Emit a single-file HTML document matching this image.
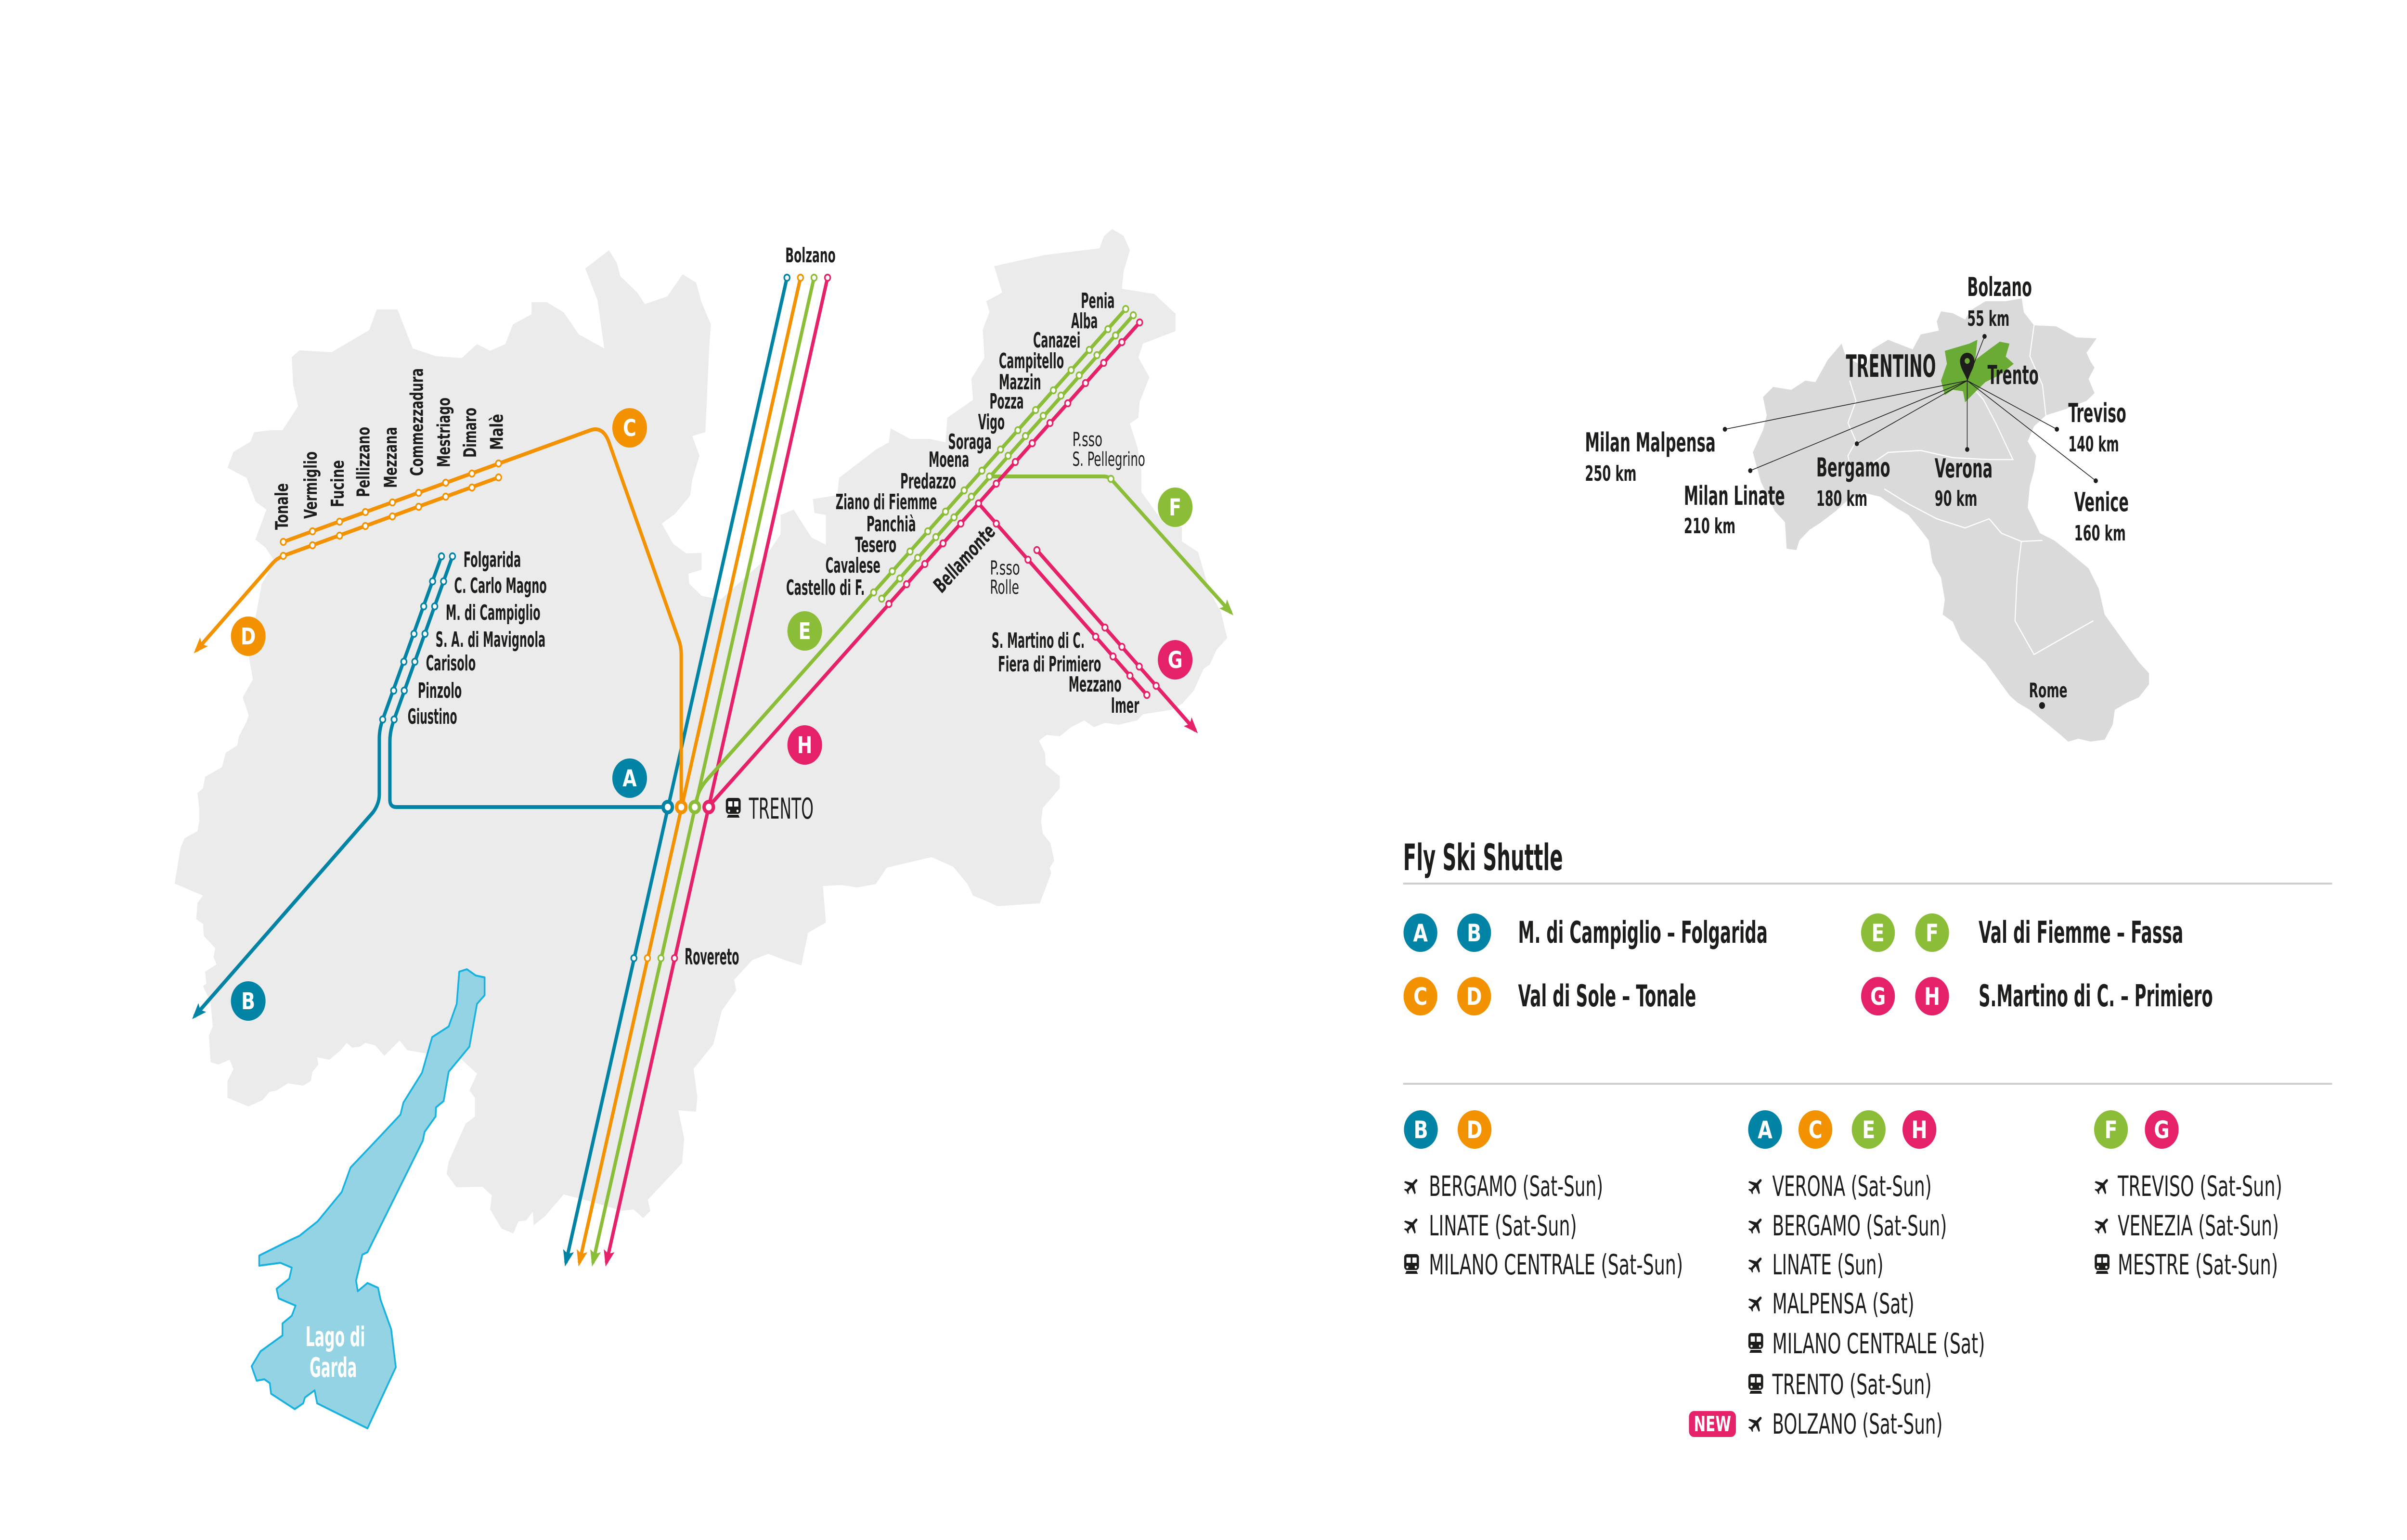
<!DOCTYPE html>
<html>
<head>
<meta charset="utf-8">
<style>
  html,body{margin:0;padding:0;background:#fff;width:100%;height:100%;overflow:hidden;}
  svg{display:block;width:100vw;height:100vh;}
  .b{font-family:"Liberation Sans Narrow","DejaVu Sans Condensed","Liberation Sans",sans-serif;font-weight:700;fill:#1d1d1b;}
  .r{font-family:"Liberation Sans Narrow","DejaVu Sans Condensed","Liberation Sans",sans-serif;font-weight:400;fill:#1d1d1b;}
  .w{fill:#fff;}
</style>
</head>
<body>
<svg viewBox="0 0 5692 3200" preserveAspectRatio="none" xmlns="http://www.w3.org/2000/svg">
<defs>
  <marker id="aB" viewBox="-40 -25 50 50" refX="0" refY="0" markerWidth="50" markerHeight="50" markerUnits="userSpaceOnUse" orient="auto"><path d="M8,0 L-26,-13 L-19,0 L-26,13 Z" fill="#0083a5"/></marker>
  <marker id="aO" viewBox="-40 -25 50 50" refX="0" refY="0" markerWidth="50" markerHeight="50" markerUnits="userSpaceOnUse" orient="auto"><path d="M8,0 L-26,-13 L-19,0 L-26,13 Z" fill="#f39200"/></marker>
  <marker id="aG" viewBox="-40 -25 50 50" refX="0" refY="0" markerWidth="50" markerHeight="50" markerUnits="userSpaceOnUse" orient="auto"><path d="M8,0 L-26,-13 L-19,0 L-26,13 Z" fill="#8bbd38"/></marker>
  <marker id="aM" viewBox="-40 -25 50 50" refX="0" refY="0" markerWidth="50" markerHeight="50" markerUnits="userSpaceOnUse" orient="auto"><path d="M8,0 L-26,-13 L-19,0 L-26,13 Z" fill="#e5216a"/></marker>
  <g id="train">
    <rect x="-17.5" y="-20" width="35" height="33" rx="7" fill="#1d1d1b"/>
    <rect x="-12" y="-13" width="10" height="11" fill="#fff"/>
    <rect x="2" y="-13" width="10" height="11" fill="#fff"/>
    <circle cx="-10" cy="7" r="2.6" fill="#fff"/>
    <circle cx="10" cy="7" r="2.6" fill="#fff"/>
    <path d="M-12,15 L12,15 L15,21 L-15,21 Z" fill="#1d1d1b"/>
  </g>
  <g id="plane">
    <path transform="rotate(45) scale(1.85) translate(-11.5,-12)" d="M21 16v-2l-8-5V3.5c0-.83-.67-1.5-1.5-1.5S10 2.67 10 3.5V9l-8 5v2l8-2.5V19l-2 1.5V22l3.5-1 3.5 1v-1.5L13 19v-5.5l8 2.5z" fill="#1d1d1b"/>
  </g>
</defs>
<rect width="5692" height="3200" fill="#fff"/>

<!-- Trentino map -->
<polygon fill="#ebebeb" points="538,972 552,939 592,918 601,898 641,894 668,894 705,844 693,798 690,742 708,728 784,732 873,686 891,643 940,643 976,724 1030,740 1092,744 1128,715 1159,729 1195,715 1213,674 1257,653 1257,628 1293,628 1333,649 1369,695 1429,724 1413,624 1384,558 1440,520 1458,545 1467,574 1507,608 1525,632 1578,616 1614,570 1646,587 1659,628 1681,674 1677,724 1668,898 1637,906 1654,947 1637,997 1632,1030 1596,1068 1565,1088 1592,1130 1623,1150 1659,1149 1659,1184 1628,1192 1630,1213 1659,1238 1704,1246 1800,1170 1846,1110 1846,1070 1877,1059 1919,1117 1953,1132 1953,1070 1926,1066 1922,1037 1980,1029 1984,993 2072,934 2102,919 2106,890 2152,912 2198,912 2236,919 2240,868 2301,831 2297,787 2328,743 2324,685 2340,648 2332,626 2370,608 2351,553 2470,530 2600,516 2611,490 2630,476 2657,490 2672,520 2657,564 2653,600 2730,611 2780,652 2780,688 2703,714 2692,743 2718,784 2695,835 2692,868 2672,880 2690,930 2699,978 2699,1022 2753,1088 2795,1095 2795,1125 2833,1147 2860,1227 2887,1271 2902,1326 2877,1350 2861,1381 2846,1390 2823,1435 2796,1462 2770,1475 2703,1484 2689,1497 2645,1506 2613,1502 2587,1511 2564,1497 2533,1511 2506,1530 2475,1527 2457,1539 2471,1564 2473,1589 2506,1613 2506,1638 2466,1679 2462,1707 2466,1732 2484,1752 2493,1788 2482,1804 2486,1814 2459,1877 2359,1883 2332,1872 2301,1861 2288,1837 2254,1801 2203,1781 2140,1794 2097,1803 2071,1837 2027,1844 1990,1839 1946,1841 1953,1917 1911,1938 1895,2006 1859,1996 1817,1982 1779,1995 1736,2036 1741,2058 1707,2100 1687,2170 1640,2221 1649,2279 1646,2310 1604,2307 1618,2366 1613,2417 1532,2493 1538,2516 1521,2531 1498,2513 1471,2516 1382,2493 1333,2482 1288,2528 1262,2546 1260,2518 1244,2536 1226,2538 1214,2563 1186,2553 1159,2513 1163,2484 1141,2466 1079,2467 1056,2439 1061,2414 1101,2335 1123,2320 1123,2281 1110,2266 1128,2231 1092,2202 1025,2189 1007,2189 963,2182 945,2162 909,2194 887,2172 864,2167 851,2175 833,2177 820,2167 806,2182 779,2202 750,2197 753,2212 739,2227 735,2246 717,2256 681,2251 654,2266 637,2269 621,2286 587,2299 538,2281 538,2246 552,2222 543,2202 516,2212 498,2207 494,2152 503,2133 498,2083 480,2049 488,2044 485,2019 512,2004 505,1989 509,1970 482,1945 480,1920 464,1910 467,1876 480,1861 413,1836 427,1762 436,1742 467,1727 471,1708 471,1678 467,1648 480,1638 485,1614 525,1594 534,1564 561,1549 565,1530 583,1500 588,1486 574,1449 598,1412 588,1362 605,1279 619,1213 650,1167 628,1138 604,1121 630,1059 605,1043 583,993"/>

<!-- Lake -->
<polygon fill="#94d3e4" stroke="#17b2df" stroke-width="4" stroke-linejoin="round" points="1086,2019 1104,2014 1125,2027 1146,2031 1146,2068 1128,2086 1110,2175 1061,2227 1049,2288 1031,2301 1030,2320 1004,2352 1000,2370 869,2602 857,2607 842,2661 846,2683 869,2666 894,2676 900,2701 925,2762 936,2841 869,2968 750,2916 744,2889 721,2904 717,2916 697,2928 641,2896 638,2874 625,2866 607,2869 595,2839 616,2808 668,2775 668,2750 690,2734 699,2713 659,2698 654,2678 684,2657 690,2634 663,2624 613,2630 613,2609 686,2577 708,2568 751,2538 808,2477 829,2426 897,2363 947,2316 954,2291 998,2229 1022,2155 1061,2133 1080,2086"/>
<text class="b w" x="793" y="2797" font-size="56" text-anchor="middle" textLength="141" lengthAdjust="spacingAndGlyphs">Lago di</text>
<text class="b w" x="788" y="2861" font-size="56" text-anchor="middle" textLength="112" lengthAdjust="spacingAndGlyphs">Garda</text>

<!-- Lines -->
<g fill="none" stroke-width="8" stroke-linejoin="round" stroke-linecap="butt">
  <path d="M1861,577 L1338,2624" stroke="#0083a5" marker-end="url(#aB)"/>
  <path d="M1893,577 L1370,2624" stroke="#f39200" marker-end="url(#aO)"/>
  <path d="M1925,577 L1402,2624" stroke="#8bbd38" marker-end="url(#aG)"/>
  <path d="M1957,577 L1434,2624" stroke="#e5216a" marker-end="url(#aM)"/>
  <path d="M1070,1156 L932,1495 Q922,1519 922,1540 L922,1662 Q922,1677 937,1677 L1579,1677" stroke="#0083a5"/>
  <path d="M1044,1156 L905,1495 Q897,1515 897,1535 L897,1650 Q897,1670 882,1688 L460,2112" stroke="#0083a5" marker-end="url(#aB)"/>
  <path d="M1611,1676 L1611,1360 Q1611,1342 1604,1327 L1442,924 Q1428,884 1396,894 L670,1126" stroke="#f39200"/>
  <path d="M1179,992 L670,1155 Q655,1160 645,1170 L464,1352" stroke="#f39200" marker-end="url(#aO)"/>
  <path d="M1644,1676 C1648,1652 1656,1636 1672,1620 L2662,642" stroke="#8bbd38"/>
  <path d="M2680,655 L2085,1244" stroke="#8bbd38"/>
  <path d="M2340,990 L2610,990 Q2622,990 2630,998 L2911,1273" stroke="#8bbd38" marker-end="url(#aG)"/>
  <path d="M1676,1676 L1692,1660 L2695,670" stroke="#e5216a"/>
  <path d="M2314,1046 L2712,1444" stroke="#e5216a"/>
  <path d="M2452,1143 L2827,1518" stroke="#e5216a" marker-end="url(#aM)"/>
</g>

<!-- Stations -->
<g fill="#fff" stroke-width="3.5">
  <g stroke="#0083a5">
    <circle cx="1861" cy="577" r="6.5"/>
    <circle cx="1499" cy="1991" r="6.5"/>
    <circle cx="932" cy="1495" r="6.5"/><circle cx="956" cy="1435" r="6.5"/><circle cx="981" cy="1375" r="6.5"/><circle cx="1005" cy="1317" r="6.5"/><circle cx="1028" cy="1260" r="6.5"/><circle cx="1049" cy="1208" r="6.5"/><circle cx="1070" cy="1156" r="6.5"/>
    <circle cx="905" cy="1495" r="6.5"/><circle cx="931" cy="1435" r="6.5"/><circle cx="955" cy="1375" r="6.5"/><circle cx="979" cy="1317" r="6.5"/><circle cx="1002" cy="1260" r="6.5"/><circle cx="1023" cy="1208" r="6.5"/><circle cx="1044" cy="1156" r="6.5"/>
  </g>
  <g stroke="#f39200">
    <circle cx="1893" cy="577" r="6.5"/>
    <circle cx="1531" cy="1991" r="6.5"/>
    <circle cx="670" cy="1126" r="6.5"/><circle cx="739" cy="1104" r="6.5"/><circle cx="803" cy="1084" r="6.5"/><circle cx="864" cy="1064" r="6.5"/><circle cx="928" cy="1044" r="6.5"/><circle cx="990" cy="1024" r="6.5"/><circle cx="1054" cy="1003" r="6.5"/><circle cx="1116" cy="984" r="6.5"/><circle cx="1179" cy="963" r="6.5"/>
    <circle cx="670" cy="1155" r="6.5"/><circle cx="739" cy="1133" r="6.5"/><circle cx="803" cy="1113" r="6.5"/><circle cx="864" cy="1093" r="6.5"/><circle cx="928" cy="1073" r="6.5"/><circle cx="990" cy="1053" r="6.5"/><circle cx="1054" cy="1032" r="6.5"/><circle cx="1116" cy="1013" r="6.5"/><circle cx="1179" cy="992" r="6.5"/>
  </g>
  <g stroke="#8bbd38">
    <circle cx="1925" cy="577" r="6.5"/>
    <circle cx="1563" cy="1991" r="6.5"/>
    <circle cx="2662" cy="642" r="6.5"/><circle cx="2620" cy="684" r="6.5"/><circle cx="2576" cy="727" r="6.5"/><circle cx="2533" cy="769" r="6.5"/><circle cx="2491" cy="811" r="6.5"/><circle cx="2449" cy="852" r="6.5"/><circle cx="2407" cy="894" r="6.5"/><circle cx="2366" cy="934" r="6.5"/><circle cx="2322" cy="978" r="6.5"/><circle cx="2280" cy="1019" r="6.5"/><circle cx="2236" cy="1063" r="6.5"/><circle cx="2194" cy="1104" r="6.5"/><circle cx="2152" cy="1146" r="6.5"/><circle cx="2110" cy="1187" r="6.5"/><circle cx="2066" cy="1231" r="6.5"/>
    <circle cx="2680" cy="655" r="6.5"/><circle cx="2638" cy="697" r="6.5"/><circle cx="2594" cy="738" r="6.5"/><circle cx="2552" cy="780" r="6.5"/><circle cx="2509" cy="822" r="6.5"/><circle cx="2467" cy="864" r="6.5"/><circle cx="2425" cy="906" r="6.5"/><circle cx="2384" cy="947" r="6.5"/><circle cx="2340" cy="990" r="6.5"/><circle cx="2297" cy="1032" r="6.5"/><circle cx="2256" cy="1075" r="6.5"/><circle cx="2213" cy="1116" r="6.5"/><circle cx="2170" cy="1159" r="6.5"/><circle cx="2128" cy="1202" r="6.5"/><circle cx="2085" cy="1244" r="6.5"/>
    <circle cx="2627" cy="995" r="6.5"/>
  </g>
  <g stroke="#e5216a">
    <circle cx="1957" cy="577" r="6.5"/>
    <circle cx="1595" cy="1991" r="6.5"/>
    <circle cx="2695" cy="670" r="6.5"/><circle cx="2653" cy="711" r="6.5"/><circle cx="2610" cy="754" r="6.5"/><circle cx="2567" cy="796" r="6.5"/><circle cx="2525" cy="838" r="6.5"/><circle cx="2483" cy="879" r="6.5"/><circle cx="2441" cy="921" r="6.5"/><circle cx="2401" cy="960" r="6.5"/><circle cx="2356" cy="1005" r="6.5"/><circle cx="2314" cy="1046" r="6.5"/><circle cx="2272" cy="1088" r="6.5"/><circle cx="2230" cy="1129" r="6.5"/><circle cx="2187" cy="1172" r="6.5"/><circle cx="2144" cy="1214" r="6.5"/><circle cx="2102" cy="1255" r="6.5"/>
    <circle cx="2356" cy="1088" r="6.5"/><circle cx="2431" cy="1163" r="6.5"/><circle cx="2591" cy="1323" r="6.5"/><circle cx="2632" cy="1364" r="6.5"/><circle cx="2672" cy="1404" r="6.5"/><circle cx="2712" cy="1444" r="6.5"/>
    <circle cx="2452" cy="1143" r="6.5"/><circle cx="2613" cy="1304" r="6.5"/><circle cx="2653" cy="1344" r="6.5"/><circle cx="2694" cy="1385" r="6.5"/><circle cx="2734" cy="1425" r="6.5"/>
  </g>
  <g stroke-width="8">
    <circle cx="1579" cy="1677" r="11" stroke="#0083a5"/>
    <circle cx="1611" cy="1677" r="11" stroke="#f39200"/>
    <circle cx="1643" cy="1677" r="11" stroke="#8bbd38"/>
    <circle cx="1676" cy="1677" r="11" stroke="#e5216a"/>
  </g>
</g>

<!-- Route letter circles on map -->
<g>
  <circle cx="1489" cy="1617" r="41" fill="#0083a5"/><text class="b w" x="1489" y="1634" font-size="48" text-anchor="middle">A</text>
  <circle cx="587" cy="2080" r="41" fill="#0083a5"/><text class="b w" x="587" y="2097" font-size="48" text-anchor="middle">B</text>
  <circle cx="1489" cy="889" r="41" fill="#f39200"/><text class="b w" x="1489" y="906" font-size="48" text-anchor="middle">C</text>
  <circle cx="587" cy="1322" r="41" fill="#f39200"/><text class="b w" x="587" y="1339" font-size="48" text-anchor="middle">D</text>
  <circle cx="1903" cy="1311" r="41" fill="#8bbd38"/><text class="b w" x="1903" y="1328" font-size="48" text-anchor="middle">E</text>
  <circle cx="2779" cy="1054" r="41" fill="#8bbd38"/><text class="b w" x="2779" y="1071" font-size="48" text-anchor="middle">F</text>
  <circle cx="2779" cy="1371" r="41" fill="#e5216a"/><text class="b w" x="2779" y="1388" font-size="48" text-anchor="middle">G</text>
  <circle cx="1903" cy="1548" r="41" fill="#e5216a"/><text class="b w" x="1903" y="1565" font-size="48" text-anchor="middle">H</text>
</g>

<use href="#train" x="1734" y="1678"/>
<text class="r" x="1771" y="1701" font-size="60" textLength="153" lengthAdjust="spacingAndGlyphs">TRENTO</text>
<text class="b" x="1857" y="545" font-size="42" textLength="119" lengthAdjust="spacingAndGlyphs">Bolzano</text>
<text class="b" x="1619" y="2004" font-size="46" textLength="129" lengthAdjust="spacingAndGlyphs">Rovereto</text>

<g font-size="44">
  <text class="b" x="1096" y="1178" textLength="136" lengthAdjust="spacingAndGlyphs">Folgarida</text>
  <text class="b" x="1074" y="1232" textLength="219" lengthAdjust="spacingAndGlyphs">C. Carlo Magno</text>
  <text class="b" x="1054" y="1288" textLength="224" lengthAdjust="spacingAndGlyphs">M. di Campiglio</text>
  <text class="b" x="1030" y="1344" textLength="260" lengthAdjust="spacingAndGlyphs">S. A. di Mavignola</text>
  <text class="b" x="1007" y="1393" textLength="118" lengthAdjust="spacingAndGlyphs">Carisolo</text>
  <text class="b" x="988" y="1450" textLength="104" lengthAdjust="spacingAndGlyphs">Pinzolo</text>
  <text class="b" x="964" y="1504" textLength="117" lengthAdjust="spacingAndGlyphs">Giustino</text>
</g>

<g font-size="42">
  <text class="b" transform="translate(681,1101) rotate(-90)" textLength="97" lengthAdjust="spacingAndGlyphs">Tonale</text>
  <text class="b" transform="translate(749,1078) rotate(-90)" textLength="140" lengthAdjust="spacingAndGlyphs">Vermiglio</text>
  <text class="b" transform="translate(813,1054) rotate(-90)" textLength="98" lengthAdjust="spacingAndGlyphs">Fucine</text>
  <text class="b" transform="translate(874,1033) rotate(-90)" textLength="146" lengthAdjust="spacingAndGlyphs">Pellizzano</text>
  <text class="b" transform="translate(938,1014) rotate(-90)" textLength="127" lengthAdjust="spacingAndGlyphs">Mezzana</text>
  <text class="b" transform="translate(1000,989) rotate(-90)" textLength="224" lengthAdjust="spacingAndGlyphs">Commezzadura</text>
  <text class="b" transform="translate(1064,971) rotate(-90)" textLength="145" lengthAdjust="spacingAndGlyphs">Mestriago</text>
  <text class="b" transform="translate(1126,951) rotate(-90)" textLength="104" lengthAdjust="spacingAndGlyphs">Dimaro</text>
  <text class="b" transform="translate(1189,935) rotate(-90)" textLength="75" lengthAdjust="spacingAndGlyphs">Malè</text>
</g>

<g font-size="44" text-anchor="end">
  <text class="b" x="2636" y="640" textLength="80" lengthAdjust="spacingAndGlyphs">Penia</text>
  <text class="b" x="2596" y="682" textLength="63" lengthAdjust="spacingAndGlyphs">Alba</text>
  <text class="b" x="2555" y="722" textLength="112" lengthAdjust="spacingAndGlyphs">Canazei</text>
  <text class="b" x="2516" y="765" textLength="154" lengthAdjust="spacingAndGlyphs">Campitello</text>
  <text class="b" x="2462" y="809" textLength="100" lengthAdjust="spacingAndGlyphs">Mazzin</text>
  <text class="b" x="2421" y="849" textLength="81" lengthAdjust="spacingAndGlyphs">Pozza</text>
  <text class="b" x="2376" y="892" textLength="63" lengthAdjust="spacingAndGlyphs">Vigo</text>
  <text class="b" x="2345" y="933" textLength="103" lengthAdjust="spacingAndGlyphs">Soraga</text>
  <text class="b" x="2292" y="970" textLength="96" lengthAdjust="spacingAndGlyphs">Moena</text>
  <text class="b" x="2261" y="1015" textLength="132" lengthAdjust="spacingAndGlyphs">Predazzo</text>
  <text class="b" x="2216" y="1058" textLength="240" lengthAdjust="spacingAndGlyphs">Ziano di Fiemme</text>
  <text class="b" x="2166" y="1104" textLength="117" lengthAdjust="spacingAndGlyphs">Panchià</text>
  <text class="b" x="2120" y="1147" textLength="98" lengthAdjust="spacingAndGlyphs">Tesero</text>
  <text class="b" x="2082" y="1190" textLength="130" lengthAdjust="spacingAndGlyphs">Cavalese</text>
  <text class="b" x="2045" y="1236" textLength="186" lengthAdjust="spacingAndGlyphs">Castello di F.</text>
</g>

<g font-size="40">
  <text class="r" x="2536" y="927" textLength="71" lengthAdjust="spacingAndGlyphs">P.sso</text>
  <text class="r" x="2536" y="968" textLength="172" lengthAdjust="spacingAndGlyphs">S. Pellegrino</text>
  <text class="r" x="2341" y="1194" textLength="71" lengthAdjust="spacingAndGlyphs">P.sso</text>
  <text class="r" x="2341" y="1234" textLength="69" lengthAdjust="spacingAndGlyphs">Rolle</text>
</g>
<text class="b" font-size="44" text-anchor="middle" transform="translate(2291,1171) rotate(-44.5)" textLength="182" lengthAdjust="spacingAndGlyphs">Bellamonte</text>

<g font-size="44">
  <text class="b" x="2345" y="1346" textLength="220" lengthAdjust="spacingAndGlyphs">S. Martino di C.</text>
  <text class="b" x="2360" y="1395" textLength="244" lengthAdjust="spacingAndGlyphs">Fiera di Primiero</text>
  <text class="b" x="2527" y="1437" textLength="125" lengthAdjust="spacingAndGlyphs">Mezzano</text>
  <text class="b" x="2627" y="1481" textLength="67" lengthAdjust="spacingAndGlyphs">Imer</text>
</g>

<!-- Italy inset -->
<polygon fill="#dadada" points="4169,825 4193,804 4236,810 4269,791 4293,794 4322,748 4355,714 4365,742 4413,764 4427,726 4465,706 4523,726 4542,695 4585,687 4580,668 4590,647 4618,651 4647,664 4660,645 4695,626 4743,626 4781,620 4786,649 4810,676 4862,678 4910,701 4958,703 4934,733 4944,752 4953,764 4939,787 4953,817 4934,833 4885,850 4838,863 4810,886 4795,917 4815,947 4810,978 4800,1010 4795,1055 4824,1108 4858,1123 4891,1146 4939,1181 4963,1223 4977,1277 5020,1330 5058,1376 5082,1399 5082,1422 5058,1449 5030,1460 5001,1475 4996,1506 4977,1537 4944,1541 4915,1535 4891,1541 4870,1525 4838,1502 4800,1475 4771,1460 4752,1445 4714,1399 4695,1376 4666,1353 4637,1330 4618,1292 4594,1277 4599,1246 4590,1200 4570,1169 4561,1123 4542,1101 4513,1070 4484,1055 4446,1032 4408,1024 4370,1039 4341,1062 4307,1085 4279,1101 4255,1123 4248,1143 4225,1140 4221,1085 4197,1062 4164,1001 4145,940 4169,894 4178,863"/>
<g fill="none" stroke="#fff" stroke-width="2.5" stroke-linejoin="round">
  <polyline points="4374,791 4389,833 4370,879 4389,917 4370,947 4379,986"/>
  <polyline points="4389,986 4465,940 4542,936 4618,951 4704,955 4762,955"/>
  <polyline points="4456,1016 4513,1047 4580,1078 4647,1097 4704,1078 4733,1108 4780,1125 4830,1123"/>
  <polyline points="4780,1125 4770,1200 4765,1290 4810,1360 4870,1330 4950,1290"/>
  <polyline points="4640,780 4690,830 4720,880 4760,955"/>
  <polyline points="4810,676 4800,740 4830,800 4838,863"/>
</g>
<polygon fill="#6aab35" points="4599,729 4657,714 4676,706 4671,748 4704,726 4729,710 4752,714 4743,741 4762,756 4729,779 4695,794 4676,810 4647,836 4642,813 4618,810 4599,821 4590,791 4604,756"/>
<g stroke="#1d1d1b" stroke-width="1.6">
  <line x1="4652" y1="791" x2="4693" y2="699"/>
  <line x1="4652" y1="791" x2="4079" y2="892"/>
  <line x1="4652" y1="791" x2="4139" y2="978"/>
  <line x1="4652" y1="791" x2="4391" y2="922"/>
  <line x1="4652" y1="791" x2="4652" y2="934"/>
  <line x1="4652" y1="791" x2="4864" y2="892"/>
  <line x1="4652" y1="791" x2="4956" y2="999"/>
</g>
<g fill="#1d1d1b">
  <circle cx="4693" cy="699" r="5"/><circle cx="4079" cy="892" r="5"/><circle cx="4139" cy="978" r="5"/><circle cx="4391" cy="922" r="5"/><circle cx="4652" cy="934" r="5"/><circle cx="4864" cy="892" r="5"/><circle cx="4956" cy="999" r="5"/><circle cx="4829" cy="1466" r="7"/>
</g>
<path d="M4652,791 C4646,775 4635,765 4635,750 A17,17 0 1 1 4669,750 C4669,765 4658,775 4652,791 Z" fill="#1d1d1b"/>
<circle cx="4652" cy="750" r="6" fill="#6aab35"/>

<text class="b" x="4652" y="615" font-size="54" textLength="153" lengthAdjust="spacingAndGlyphs">Bolzano</text>
<text class="b" x="4652" y="677" font-size="44" textLength="100" lengthAdjust="spacingAndGlyphs">55 km</text>
<text class="b" x="4365" y="783" font-size="64" textLength="213" lengthAdjust="spacingAndGlyphs">TRENTINO</text>
<text class="b" x="4700" y="798" font-size="54" textLength="121" lengthAdjust="spacingAndGlyphs">Trento</text>
<text class="b" x="3748" y="938" font-size="54" textLength="309" lengthAdjust="spacingAndGlyphs">Milan Malpensa</text>
<text class="b" x="3748" y="999" font-size="44" textLength="122" lengthAdjust="spacingAndGlyphs">250 km</text>
<text class="b" x="3982" y="1049" font-size="54" textLength="239" lengthAdjust="spacingAndGlyphs">Milan Linate</text>
<text class="b" x="3982" y="1108" font-size="44" textLength="122" lengthAdjust="spacingAndGlyphs">210 km</text>
<text class="b" x="4295" y="990" font-size="54" textLength="175" lengthAdjust="spacingAndGlyphs">Bergamo</text>
<text class="b" x="4295" y="1051" font-size="44" textLength="121" lengthAdjust="spacingAndGlyphs">180 km</text>
<text class="b" x="4575" y="992" font-size="54" textLength="137" lengthAdjust="spacingAndGlyphs">Verona</text>
<text class="b" x="4575" y="1051" font-size="44" textLength="101" lengthAdjust="spacingAndGlyphs">90 km</text>
<text class="b" x="4891" y="877" font-size="54" textLength="137" lengthAdjust="spacingAndGlyphs">Treviso</text>
<text class="b" x="4891" y="938" font-size="44" textLength="120" lengthAdjust="spacingAndGlyphs">140 km</text>
<text class="b" x="4905" y="1062" font-size="54" textLength="129" lengthAdjust="spacingAndGlyphs">Venice</text>
<text class="b" x="4905" y="1123" font-size="44" textLength="122" lengthAdjust="spacingAndGlyphs">160 km</text>
<text class="b" x="4798" y="1449" font-size="42" textLength="91" lengthAdjust="spacingAndGlyphs">Rome</text>

<!-- Legend -->
<text class="b" x="3318" y="1808" font-size="76" textLength="378" lengthAdjust="spacingAndGlyphs">Fly Ski Shuttle</text>
<rect x="3318" y="1834" width="2197" height="4" fill="#cfcfcf"/>
<rect x="3318" y="2250" width="2197" height="4" fill="#cfcfcf"/>

<g>
  <circle cx="3359" cy="1938" r="40" fill="#0083a5"/><text class="b w" x="3359" y="1956" font-size="50" text-anchor="middle">A</text>
  <circle cx="3486" cy="1938" r="40" fill="#0083a5"/><text class="b w" x="3486" y="1956" font-size="50" text-anchor="middle">B</text>
  <circle cx="4441" cy="1938" r="40" fill="#8bbd38"/><text class="b w" x="4441" y="1956" font-size="50" text-anchor="middle">E</text>
  <circle cx="4569" cy="1938" r="40" fill="#8bbd38"/><text class="b w" x="4569" y="1956" font-size="50" text-anchor="middle">F</text>
  <circle cx="3359" cy="2070" r="40" fill="#f39200"/><text class="b w" x="3359" y="2088" font-size="50" text-anchor="middle">C</text>
  <circle cx="3486" cy="2070" r="40" fill="#f39200"/><text class="b w" x="3486" y="2088" font-size="50" text-anchor="middle">D</text>
  <circle cx="4441" cy="2070" r="40" fill="#e5216a"/><text class="b w" x="4441" y="2088" font-size="50" text-anchor="middle">G</text>
  <circle cx="4569" cy="2070" r="40" fill="#e5216a"/><text class="b w" x="4569" y="2088" font-size="50" text-anchor="middle">H</text>
</g>
<text class="b" x="3590" y="1959" font-size="62" textLength="590" lengthAdjust="spacingAndGlyphs">M. di Campiglio – Folgarida</text>
<text class="b" x="4679" y="1959" font-size="62" textLength="484" lengthAdjust="spacingAndGlyphs">Val di Fiemme – Fassa</text>
<text class="b" x="3590" y="2091" font-size="62" textLength="421" lengthAdjust="spacingAndGlyphs">Val di Sole – Tonale</text>
<text class="b" x="4679" y="2091" font-size="62" textLength="554" lengthAdjust="spacingAndGlyphs">S.Martino di C. – Primiero</text>

<g>
  <circle cx="3360" cy="2347" r="40" fill="#0083a5"/><text class="b w" x="3360" y="2365" font-size="50" text-anchor="middle">B</text>
  <circle cx="3487" cy="2347" r="40" fill="#f39200"/><text class="b w" x="3487" y="2365" font-size="50" text-anchor="middle">D</text>
  <circle cx="4174" cy="2347" r="40" fill="#0083a5"/><text class="b w" x="4174" y="2365" font-size="50" text-anchor="middle">A</text>
  <circle cx="4293" cy="2347" r="40" fill="#f39200"/><text class="b w" x="4293" y="2365" font-size="50" text-anchor="middle">C</text>
  <circle cx="4419" cy="2347" r="40" fill="#8bbd38"/><text class="b w" x="4419" y="2365" font-size="50" text-anchor="middle">E</text>
  <circle cx="4539" cy="2347" r="40" fill="#e5216a"/><text class="b w" x="4539" y="2365" font-size="50" text-anchor="middle">H</text>
  <circle cx="4992" cy="2347" r="40" fill="#8bbd38"/><text class="b w" x="4992" y="2365" font-size="50" text-anchor="middle">F</text>
  <circle cx="5112" cy="2347" r="40" fill="#e5216a"/><text class="b w" x="5112" y="2365" font-size="50" text-anchor="middle">G</text>
</g>

<use href="#plane" x="3338" y="2464"/>
<text class="r" x="3379" y="2485" font-size="58" textLength="412" lengthAdjust="spacingAndGlyphs">BERGAMO (Sat-Sun)</text>
<use href="#plane" x="3338" y="2546"/>
<text class="r" x="3379" y="2567" font-size="58" textLength="350" lengthAdjust="spacingAndGlyphs">LINATE (Sat-Sun)</text>
<use href="#train" x="3338" y="2626"/>
<text class="r" x="3379" y="2648" font-size="58" textLength="601" lengthAdjust="spacingAndGlyphs">MILANO CENTRALE (Sat-Sun)</text>

<use href="#plane" x="4152" y="2464"/>
<text class="r" x="4191" y="2485" font-size="58" textLength="377" lengthAdjust="spacingAndGlyphs">VERONA (Sat-Sun)</text>
<use href="#plane" x="4152" y="2546"/>
<text class="r" x="4191" y="2567" font-size="58" textLength="413" lengthAdjust="spacingAndGlyphs">BERGAMO (Sat-Sun)</text>
<use href="#plane" x="4152" y="2627"/>
<text class="r" x="4191" y="2648" font-size="58" textLength="263" lengthAdjust="spacingAndGlyphs">LINATE (Sun)</text>
<use href="#plane" x="4152" y="2708"/>
<text class="r" x="4191" y="2729" font-size="58" textLength="336" lengthAdjust="spacingAndGlyphs">MALPENSA (Sat)</text>
<use href="#train" x="4152" y="2790"/>
<text class="r" x="4191" y="2812" font-size="58" textLength="503" lengthAdjust="spacingAndGlyphs">MILANO CENTRALE (Sat)</text>
<use href="#train" x="4152" y="2875"/>
<text class="r" x="4191" y="2897" font-size="58" textLength="377" lengthAdjust="spacingAndGlyphs">TRENTO (Sat-Sun)</text>
<rect x="3994" y="2932" width="111" height="54" rx="12" fill="#e5216a"/>
<text class="b w" x="4049.5" y="2974" font-size="44" text-anchor="middle" textLength="88" lengthAdjust="spacingAndGlyphs">NEW</text>
<use href="#plane" x="4152" y="2958"/>
<text class="r" x="4191" y="2979" font-size="58" textLength="403" lengthAdjust="spacingAndGlyphs">BOLZANO (Sat-Sun)</text>

<use href="#plane" x="4971" y="2464"/>
<text class="r" x="5008" y="2485" font-size="58" textLength="389" lengthAdjust="spacingAndGlyphs">TREVISO (Sat-Sun)</text>
<use href="#plane" x="4971" y="2546"/>
<text class="r" x="5008" y="2567" font-size="58" textLength="381" lengthAdjust="spacingAndGlyphs">VENEZIA (Sat-Sun)</text>
<use href="#train" x="4971" y="2626"/>
<text class="r" x="5008" y="2648" font-size="58" textLength="379" lengthAdjust="spacingAndGlyphs">MESTRE (Sat-Sun)</text>
</svg>
</body>
</html>
